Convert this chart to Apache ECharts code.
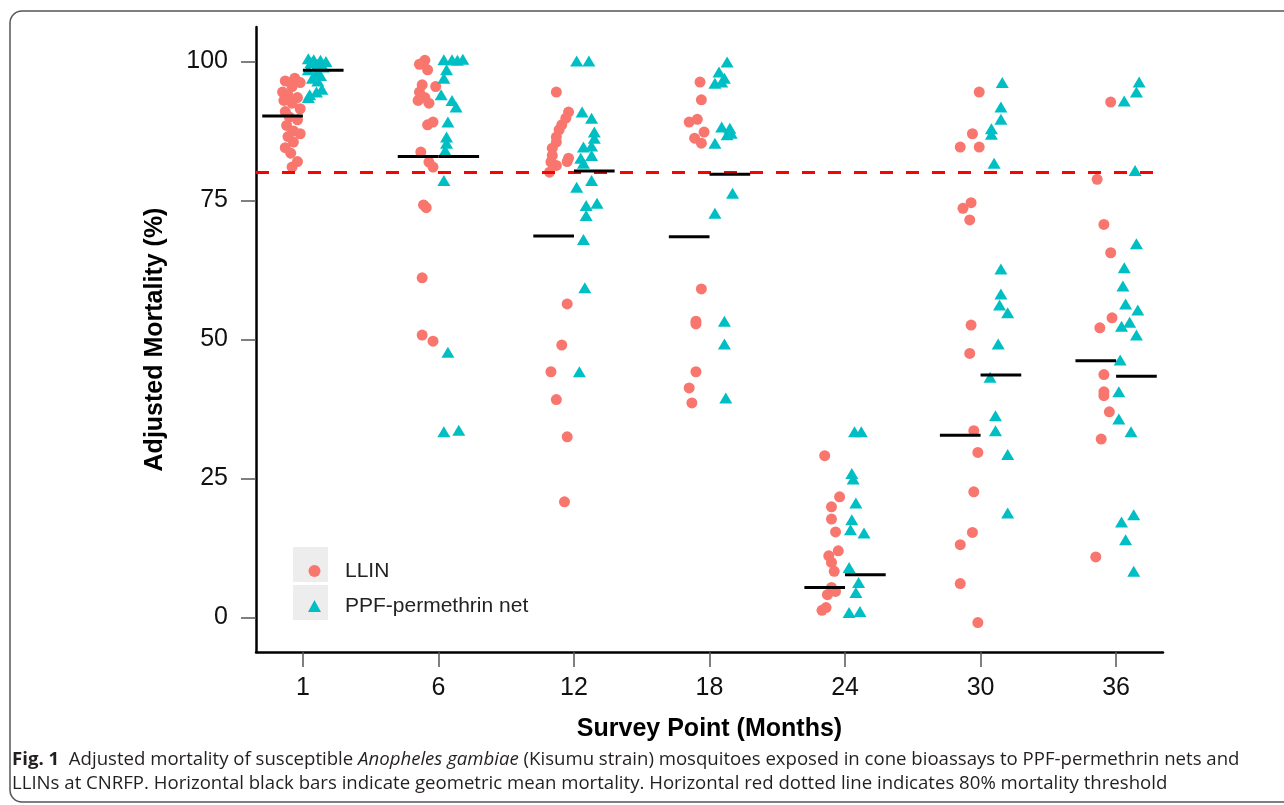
<!DOCTYPE html>
<html>
<head>
<meta charset="utf-8">
<script src="https://cdn.jsdelivr.net/npm/echarts@6/dist/echarts.min.js"></script>
<style>
html,body{margin:0;padding:0;background:#fff;}
#chart{width:1284px;height:805px;}
</style>
</head>
<body>
<div id="chart"></div>
<script>
// ---- data ----
const months = ['1', '6', '12', '18', '24', '30', '36'];
const yTicks = [0, 25, 50, 75, 100];

// LLIN values and horizontal jitter (in category units) per survey point
const llinM1 = [97.0, 96.5, 96.2, 95.5, 94.5, 94.0, 93.5, 93.0, 92.5, 91.5, 91.0, 90.0, 89.5, 88.5, 87.5, 87.0, 86.5, 85.5, 84.5, 83.5, 82.0, 81.0];
const llinM1J = [-0.06, -0.13, -0.02, -0.08, -0.15, -0.11, -0.04, -0.14, -0.08, -0.02, -0.13, -0.10, -0.04, -0.12, -0.07, -0.02, -0.11, -0.07, -0.13, -0.09, -0.04, -0.08];
const llinM6 = [100.2, 99.5, 98.5, 95.8, 95.5, 94.5, 93.5, 93.0, 92.5, 88.6, 89.1, 83.7, 81.9, 81.0, 74.2, 73.7, 61.1, 50.8, 49.7];
const llinM6J = [-0.10, -0.14, -0.08, -0.12, -0.02, -0.14, -0.10, -0.15, -0.07, -0.08, -0.04, -0.13, -0.07, -0.04, -0.11, -0.09, -0.12, -0.12, -0.04];
const llinM12 = [94.5, 90.9, 89.8, 88.6, 87.7, 86.4, 85.5, 84.4, 83.1, 82.6, 82.0, 81.9, 81.3, 80.1, 56.4, 49.0, 44.2, 39.2, 32.5, 20.8];
const llinM12J = [-0.13, -0.04, -0.06, -0.09, -0.11, -0.13, -0.13, -0.16, -0.16, -0.04, -0.05, -0.17, -0.13, -0.18, -0.05, -0.09, -0.17, -0.13, -0.05, -0.07];
const llinM18 = [96.3, 93.1, 89.1, 89.6, 87.3, 86.2, 85.3, 59.1, 53.3, 52.8, 44.2, 41.3, 38.6];
const llinM18J = [-0.07, -0.06, -0.15, -0.09, -0.04, -0.11, -0.06, -0.06, -0.10, -0.10, -0.10, -0.15, -0.13];
const llinM24 = [29.1, 21.7, 19.9, 17.7, 15.4, 12.0, 11.1, 9.9, 8.3, 5.4, 4.7, 4.1, 1.8, 1.3];
const llinM24J = [-0.15, -0.04, -0.10, -0.10, -0.07, -0.05, -0.12, -0.10, -0.08, -0.10, -0.07, -0.13, -0.14, -0.17];
const llinM30 = [94.5, 87.0, 84.6, 84.6, 74.6, 73.6, 71.5, 52.6, 47.5, 33.6, 29.7, 22.6, 15.3, 13.1, 6.1, -0.9];
const llinM30J = [-0.01, -0.06, -0.15, -0.01, -0.07, -0.13, -0.08, -0.07, -0.08, -0.05, -0.02, -0.05, -0.06, -0.15, -0.15, -0.02];
const llinM36 = [92.7, 78.8, 70.7, 65.6, 53.9, 52.1, 43.7, 40.6, 39.9, 37.0, 32.1, 10.9];
const llinM36J = [-0.04, -0.14, -0.09, -0.04, -0.03, -0.12, -0.09, -0.09, -0.09, -0.05, -0.11, -0.15];

// PPF-permethrin net values and jitter
const ppfM1 = [100.5, 100.3, 100.2, 100.0, 99.8, 99.5, 99.0, 98.5, 98.0, 97.5, 97.0, 96.5, 95.0, 94.5, 94.0, 93.5];
const ppfM1J = [0.04, 0.08, 0.13, 0.17, 0.06, 0.11, 0.15, 0.04, 0.10, 0.13, 0.07, 0.11, 0.14, 0.10, 0.05, 0.04];
const ppfM6 = [100.3, 100.3, 100.2, 100.4, 98.5, 97.0, 94.0, 93.0, 91.8, 89.1, 86.4, 85.3, 84.0, 78.6, 47.7, 33.4, 33.7];
const ppfM6J = [0.04, 0.10, 0.14, 0.18, 0.06, 0.04, 0.02, 0.10, 0.13, 0.07, 0.06, 0.06, 0.05, 0.04, 0.07, 0.04, 0.15];
const ppfM12 = [100.1, 100.1, 90.9, 89.8, 87.3, 86.2, 84.6, 84.8, 83.1, 82.6, 81.7, 77.4, 78.6, 74.1, 74.5, 72.3, 68.0, 59.3, 44.2];
const ppfM12J = [0.02, 0.11, 0.06, 0.13, 0.15, 0.15, 0.07, 0.13, 0.13, 0.05, 0.07, 0.02, 0.13, 0.09, 0.17, 0.09, 0.07, 0.08, 0.04];
const ppfM18 = [99.9, 98.1, 97.0, 96.1, 96.3, 88.2, 88.0, 86.8, 87.1, 85.3, 76.3, 72.7, 53.3, 49.2, 39.5];
const ppfM18J = [0.13, 0.07, 0.11, 0.04, 0.09, 0.09, 0.15, 0.13, 0.16, 0.04, 0.17, 0.04, 0.11, 0.11, 0.12];
const ppfM24 = [33.4, 33.4, 25.9, 24.9, 20.6, 17.6, 15.8, 15.2, 9.0, 6.3, 4.5, 0.9, 1.1];
const ppfM24J = [0.07, 0.12, 0.05, 0.06, 0.08, 0.05, 0.04, 0.14, 0.03, 0.10, 0.08, 0.03, 0.11];
const ppfM30 = [96.2, 91.8, 89.6, 87.9, 86.9, 81.7, 62.7, 58.2, 56.2, 54.8, 49.2, 43.2, 36.3, 33.6, 29.3, 18.8];
const ppfM30J = [0.16, 0.15, 0.15, 0.08, 0.08, 0.10, 0.15, 0.15, 0.14, 0.20, 0.13, 0.07, 0.11, 0.11, 0.20, 0.20];
const ppfM36 = [96.3, 94.5, 92.9, 80.4, 67.2, 62.9, 59.6, 56.4, 55.3, 53.1, 52.4, 50.8, 46.3, 40.6, 35.7, 33.4, 18.5, 17.2, 14.0, 8.3];
const ppfM36J = [0.17, 0.15, 0.06, 0.14, 0.15, 0.06, 0.05, 0.07, 0.16, 0.10, 0.04, 0.15, 0.03, 0.02, 0.02, 0.11, 0.13, 0.04, 0.07, 0.13];

// geometric means (black bars)
const llinMean = [90.2, 82.9, 68.6, 68.5, 5.4, 32.8, 46.2];
const ppfMean = [98.4, 82.9, 80.3, 79.7, 7.7, 43.6, 43.4];
const threshold = 80;

// ---- build ----
const llinGroups = [[llinM1, llinM1J], [llinM6, llinM6J], [llinM12, llinM12J], [llinM18, llinM18J], [llinM24, llinM24J], [llinM30, llinM30J], [llinM36, llinM36J]];
const ppfGroups = [[ppfM1, ppfM1J], [ppfM6, ppfM6J], [ppfM12, ppfM12J], [ppfM18, ppfM18J], [ppfM24, ppfM24J], [ppfM30, ppfM30J], [ppfM36, ppfM36J]];
function toPoints(groups) {
  const out = [];
  groups.forEach(function (g, i) {
    g[0].forEach(function (v, k) { out.push([i + 1 + g[1][k], v]); });
  });
  return out;
}
const meanData = [];
llinMean.forEach(function (v, i) { meanData.push([i + 1, v, -1]); });
ppfMean.forEach(function (v, i) { meanData.push([i + 1, v, 1]); });

const FONT = 'Liberation Sans, Arial, sans-serif';
const CAP = 'Open Sans';
const chart = echarts.init(document.getElementById('chart'), null, { renderer: 'canvas' });
const option = {
  animation: false,
  backgroundColor: '#ffffff',
  grid: { left: 256, right: 121, top: 27, bottom: 153 },
  legend: {
    orient: 'vertical',
    left: 303,
    top: 554,
    itemWidth: 13,
    itemHeight: 12,
    itemGap: 11,
    data: ['LLIN', 'PPF-permethrin net'],
    textStyle: { fontSize: 21, color: '#222', fontFamily: FONT, lineHeight: 24, padding: [0, 0, 0, 19] }
  },
  xAxis: {
    type: 'value',
    min: 0.654,
    max: 7.346,
    splitLine: { show: false },
    axisLine: { show: true, onZero: false, lineStyle: { color: '#000', width: 2.5 } },
    axisTick: { show: true, customValues: [1, 2, 3, 4, 5, 6, 7], length: 15, lineStyle: { color: '#555', width: 1.5 } },
    axisLabel: {
      customValues: [1, 2, 3, 4, 5, 6, 7],
      formatter: function (v) { return months[Math.round(v) - 1]; },
      fontSize: 25, color: '#111', margin: 24, fontFamily: FONT
    },
    name: 'Survey Point (Months)',
    nameLocation: 'middle',
    nameGap: 65,
    nameTextStyle: { fontSize: 25, fontWeight: 'bold', color: '#000', fontFamily: FONT }
  },
  yAxis: {
    type: 'value',
    min: -6.2,
    max: 106.2,
    splitLine: { show: false },
    axisLine: { show: true, onZero: false, lineStyle: { color: '#000', width: 2.5 } },
    axisTick: { show: true, customValues: yTicks, length: 15, lineStyle: { color: '#555', width: 1.5 } },
    axisLabel: { customValues: yTicks, fontSize: 25, color: '#111', margin: 28, fontFamily: FONT },
    name: 'Adjusted Mortality (%)',
    nameLocation: 'middle',
    nameRotate: 90,
    nameGap: 88,
    nameTextStyle: { fontSize: 25, fontWeight: 'bold', color: '#000', fontFamily: FONT }
  },
  series: [
    {
      name: 'LLIN', type: 'scatter', symbol: 'circle', symbolSize: 11,
      itemStyle: { color: '#F8766D', opacity: 1 },
      data: toPoints(llinGroups), z: 2
    },
    {
      name: 'PPF-permethrin net', type: 'scatter', symbol: 'triangle', symbolSize: [13, 11],
      itemStyle: { color: '#00BFC4', opacity: 1 },
      data: toPoints(ppfGroups), z: 2
    },
    {
      name: 'mean', type: 'custom', z: 5,
      data: meanData,
      renderItem: function (params, api) {
        const pos = api.value(0), v = api.value(1), side = api.value(2);
        const a = api.coord([side < 0 ? pos - 0.3 : pos, v]);
        const b = api.coord([side < 0 ? pos : pos + 0.3, v]);
        return { type: 'line', shape: { x1: a[0], y1: a[1], x2: b[0], y2: b[1] }, style: { stroke: '#000', lineWidth: 3 } };
      },
      markLine: {
        silent: true, symbol: ['none', 'none'], animation: false,
        label: { show: false },
        lineStyle: { color: '#FF0000', type: [13, 13], width: 3 },
        data: [{ yAxis: threshold }]
      }
    }
  ],
  graphic: [
    { type: 'rect', z: -10, shape: { x: 10, y: 11, width: 1290, height: 791, r: 12 }, style: { fill: 'none', stroke: '#555', lineWidth: 1.5 } },
    { type: 'rect', z: -5, shape: { x: 293, y: 547, width: 35, height: 35 }, style: { fill: '#EDEDED' } },
    { type: 'rect', z: -5, shape: { x: 293, y: 585, width: 35, height: 35 }, style: { fill: '#EDEDED' } },
    {
      type: 'text', left: 12, top: 750,
      style: {
        text: '{b|Fig. 1}  {n|Adjusted mortality of susceptible }{i|Anopheles gambiae}{n| (Kisumu strain) mosquitoes exposed in cone bioassays to PPF-permethrin nets and}',
        fontFamily: CAP, fontSize: 18.6, fill: '#231F20',
        rich: {
          b: { fontFamily: CAP, fontSize: 18.6, fontWeight: 'bold', fill: '#231F20' },
          n: { fontFamily: CAP, fontSize: 18.6, fill: '#231F20' },
          i: { fontFamily: CAP, fontSize: 18.6, fontStyle: 'italic', fill: '#231F20' }
        }
      }
    },
    {
      type: 'text', left: 12, top: 774,
      style: {
        text: 'LLINs at CNRFP. Horizontal black bars indicate geometric mean mortality. Horizontal red dotted line indicates 80% mortality threshold',
        fontFamily: CAP, fontSize: 18.6, fill: '#231F20'
      }
    }
  ]
};
chart.setOption(option);
</script>
</body>
</html>
